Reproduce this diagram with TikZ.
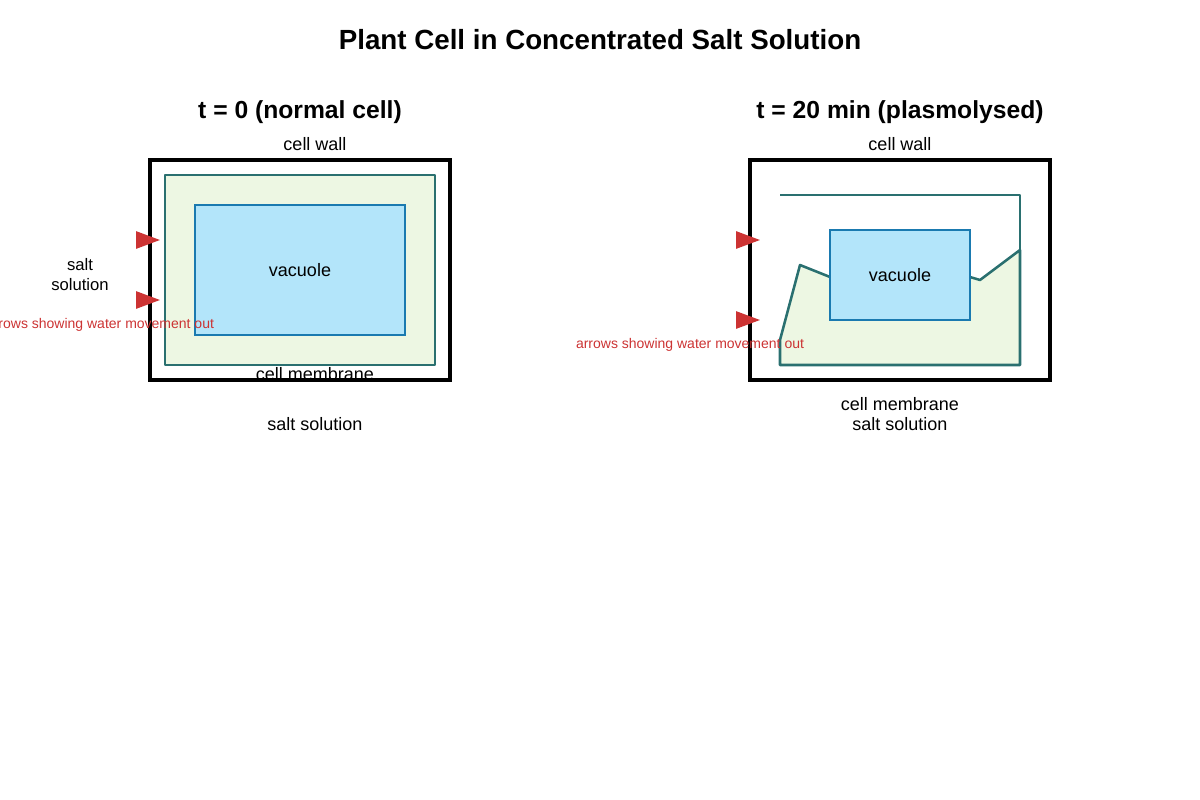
\documentclass[tikz,border=0pt]{standalone}
\usepackage{fontspec}
\setmainfont{Liberation Sans}
\usetikzlibrary{arrows.meta}
\definecolor{memb}{HTML}{2A7070}
\definecolor{membfill}{HTML}{EDF7E3}
\definecolor{vac}{HTML}{B3E5FA}
\definecolor{vacl}{HTML}{1A7AB0}
\definecolor{redc}{HTML}{CC3333}
\begin{document}
\begin{tikzpicture}[x=0.75pt,y=-0.75pt,
  wall/.style={draw=black,line width=3pt},
  membrane/.style={draw=memb,line width=1.9pt,fill=membfill,line join=round},
  vacuole/.style={draw=vacl,line width=1.3pt,fill=vac},
  lbl/.style={font=\fontsize{13.5}{15}\selectfont,align=center},
  head/.style={font=\bfseries\fontsize{18.5}{22}\selectfont},
  red/.style={font=\fontsize{10.5}{12}\selectfont,text=redc},
  wa/.style={draw=redc,line width=1.3pt,-{Triangle[length=18pt,width=13pt]}}]
\useasboundingbox (0,0) rectangle (1200,800);
\node[font=\bfseries\fontsize{20.8}{24}\selectfont] (title) at (600,40) {Plant Cell in Concentrated Salt Solution};
% left
\node[head] (h1) at (300,112) {t = 0 (normal cell)};
\node[lbl] (cw1) at (315,144) {cell wall};
\node[wall,minimum width=225pt,minimum height=165pt,inner sep=0pt] (w1) at (300,270) {};
\node[membrane,minimum width=202.5pt,minimum height=142.5pt,inner sep=0pt] (m1) at (300,270) {};
\node[vacuole,minimum width=157.5pt,minimum height=97.5pt,inner sep=0pt,lbl] (v1) at (300,270) {vacuole};
\coordinate (a1s) at (136,240); \coordinate (a1e) at (160,240);
\coordinate (a2s) at (136,300); \coordinate (a2e) at (160,300);
\draw[wa] (a1s) -- (a1e);
\draw[wa] (a2s) -- (a2e);
\node[font=\fontsize{12.5}{15}\selectfont,align=center] (ss1) at (80,275) {salt\\solution};
\node[red] (r1) at (100,325) {arrows showing water movement out};
\node[lbl] (cm1) at (315,374) {cell membrane};
\node[lbl] (sb1) at (315,424) {salt solution};
% right
\node[head] (h2) at (900,112) {t = 20 min (plasmolysed)};
\node[lbl] (cw2) at (900,144) {cell wall};
\node[wall,minimum width=225pt,minimum height=165pt,inner sep=0pt] (w2) at (900,270) {};
\draw[membrane] (780,365) -- (780,340) -- (800,265) -- (830,277) -- (970,277) -- (980,280) -- (1020,250) -- (1020,365) -- cycle;
\draw[draw=memb,line width=1.9pt,line join=round] (780,195) -- (1020,195) -- (1020,250);
\node[vacuole,minimum width=105pt,minimum height=67.5pt,inner sep=0pt,lbl] (v2) at (900,275) {vacuole};
\coordinate (b1s) at (736,240); \coordinate (b1e) at (760,240);
\coordinate (b2s) at (736,320); \coordinate (b2e) at (760,320);
\draw[wa] (b1s) -- (b1e);
\draw[wa] (b2s) -- (b2e);
\node[red] (r2) at (690,345) {arrows showing water movement out};
\node[lbl] (cm2) at (900,404) {cell membrane};
\node[lbl] (sb2) at (900,424) {salt solution};
\end{tikzpicture}
\end{document}
